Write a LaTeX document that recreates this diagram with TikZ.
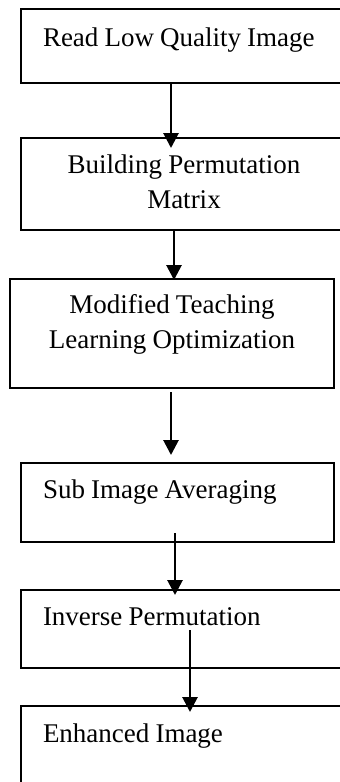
\documentclass[tikz,border=0pt]{standalone}
\usepackage{fontspec}
\setmainfont{Liberation Serif}[WordSpace=0.9]
\usetikzlibrary{arrows.meta,calc}

\begin{document}
\begin{tikzpicture}[x=1pt,y=-1pt,>={Triangle[width=15pt,length=15pt]},
  box/.style={draw,line width=1.5pt,rectangle,anchor=north west,inner xsep=22pt,
    inner ysep=0pt,outer sep=0pt,font=\fontsize{27}{35}\selectfont},
  flow/.style={->,line width=2.8pt}]
  \useasboundingbox (0,0) rectangle (340,782);
  \clip (0,0) rectangle (340,782);

  \node[box,align=flush left,text width=282pt,text height=37pt,text depth=37pt] (read) at (21,9) {Read Low Quality Image};
  \node[box,align=flush center,text width=282pt,text height=35pt,text depth=57pt] (build) at (21,138) {Building Permutation\\Matrix};
  \node[box,align=flush center,text width=280pt,text height=34pt,text depth=75pt] (mtlo) at (10,279) {Modified Teaching\\Learning Optimization};
  \node[box,align=flush left,text width=269pt,text height=35pt,text depth=44pt] (avg) at (21,463) {Sub Image Averaging};
  \node[box,align=flush left,text width=282pt,text height=35pt,text depth=43pt] (inv) at (21,590) {Inverse Permutation};
  \node[box,align=flush left,text width=282pt,text height=36pt,text depth=48pt] (enh) at (21,706) {Enhanced Image};

  \draw[flow] ($(read.south west)+(150,0)$) -- ($(build.north west)+(150,10)$);
  \draw[flow] ($(build.south west)+(153,0)$) -- ($(mtlo.north west)+(164,1)$);
  \draw[flow] ($(mtlo.south west)+(161,4)$) -- ($(avg.north west)+(150,-8)$);
  \draw[flow] ($(avg.south west)+(154,-9)$) -- ($(inv.north west)+(154,5)$);
  \draw[flow] ($(inv.south west)+(169,-38)$) -- ($(enh.north west)+(169,6)$);
\end{tikzpicture}
\end{document}
